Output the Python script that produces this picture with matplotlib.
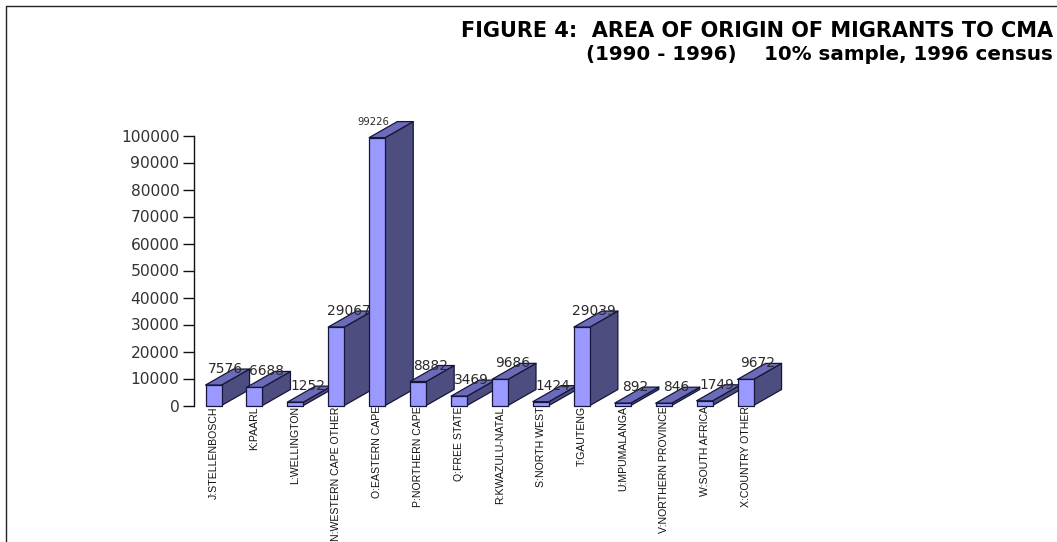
import matplotlib
matplotlib.use("Agg")
import matplotlib.pyplot as plt
from matplotlib.patches import Polygon

W, H = 1057, 542
categories = ["J:STELLENBOSCH", "K:PAARL", "L:WELLINGTON", "N:WESTERN CAPE OTHER",
              "O:EASTERN CAPE", "P:NORTHERN CAPE", "Q:FREE STATE", "R:KWAZULU-NATAL",
              "S:NORTH WEST", "T:GAUTENG", "U:MPUMALANGA", "V:NORTHERN PROVINCE",
              "W:SOUTH AFRICA", "X:COUNTRY OTHER"]
values = [7576, 6688, 1252, 29067, 99226, 8882, 3469, 9686, 1424, 29039, 892, 846, 1749, 9672]
y_ticks = [0, 10000, 20000, 30000, 40000, 50000, 60000, 70000, 80000, 90000, 100000]
title_lines = ["FIGURE 4:  AREA OF ORIGIN OF MIGRANTS TO CMA",
               "(1990 - 1996)    10% sample, 1996 census"]

FRONT, TOP, SIDE = "#9999ff", "#6b6bb8", "#4d4d80"
EDGE = "#16163a"
BAR_W = 16 / 40.9
DX = 28 / 40.9          # depth, category units
DY = 16 / 270 * 100000  # depth, value units

fig = plt.figure(figsize=(W / 100, H / 100), dpi=100, facecolor="white")
L, R, T, B = 194, 766, 135.5, 405.5
ax = fig.add_axes([L / W, 1 - B / H, (R - L) / W, (B - T) / H])
ax.set_xlim(-0.477, 13.5)
ax.set_ylim(0, 100000)
ax.patch.set_alpha(0)
for s in ("top", "right", "bottom"):
    ax.spines[s].set_visible(False)
ax.spines["left"].set_linewidth(1.0)
ax.spines["left"].set_color("#111111")

for i, v in enumerate(values):
    x0, x1 = i - BAR_W / 2, i + BAR_W / 2
    z = 2 + i
    kw = dict(edgecolor=EDGE, linewidth=0.9, clip_on=False, zorder=z, joinstyle="round")
    ax.add_patch(Polygon([(x1, 0), (x1 + DX, DY), (x1 + DX, v + DY), (x1, v)], facecolor=SIDE, **kw))
    ax.add_patch(Polygon([(x0, v), (x1, v), (x1 + DX, v + DY), (x0 + DX, v + DY)], facecolor=TOP, **kw))
    ax.add_patch(Polygon([(x0, 0), (x1, 0), (x1, v), (x0, v)], facecolor=FRONT, **kw))
    tall = v > 90000
    ax.text(i + (-0.1 if tall else 0.3), v + DY, f"{v}", ha="center", va="center",
            fontsize=7.2 if tall else 9.9, family="DejaVu Sans", color="#2a2a2a",
            zorder=z + 0.5, clip_on=False)

ax.set_yticks(y_ticks)
ax.set_yticklabels([str(t) for t in y_ticks], fontsize=11.2, family="DejaVu Sans", color="#333333")
ax.tick_params(axis="y", length=8, width=1.0, pad=2.5, color="#111111")
ax.set_xticks(range(len(categories)))
ax.set_xticklabels(categories, rotation=90, fontsize=7.6, family="Liberation Sans", color="#111111",
                   ha="center", va="top")
ax.tick_params(axis="x", length=0, pad=0.5)
for lab in ax.get_xticklabels():
    lab.set_zorder(30)

# Outer frame
fig.add_artist(plt.Line2D([6 / W, 6 / W, 1], [0, 1 - 5.5 / H, 1 - 5.5 / H],
                          color="#222222", linewidth=1.0, transform=fig.transFigure))

fig.text(1053 / W, 1 - 31 / H, title_lines[0], ha="right", va="center", fontsize=15.0,
         family="DejaVu Sans", fontweight="bold", color="black")
fig.text(1053 / W, 1 - 54.5 / H, title_lines[1], ha="right", va="center", fontsize=14.3,
         family="DejaVu Sans", fontweight="bold", color="black")

fig.savefig("out.png", dpi=100, facecolor="white")
